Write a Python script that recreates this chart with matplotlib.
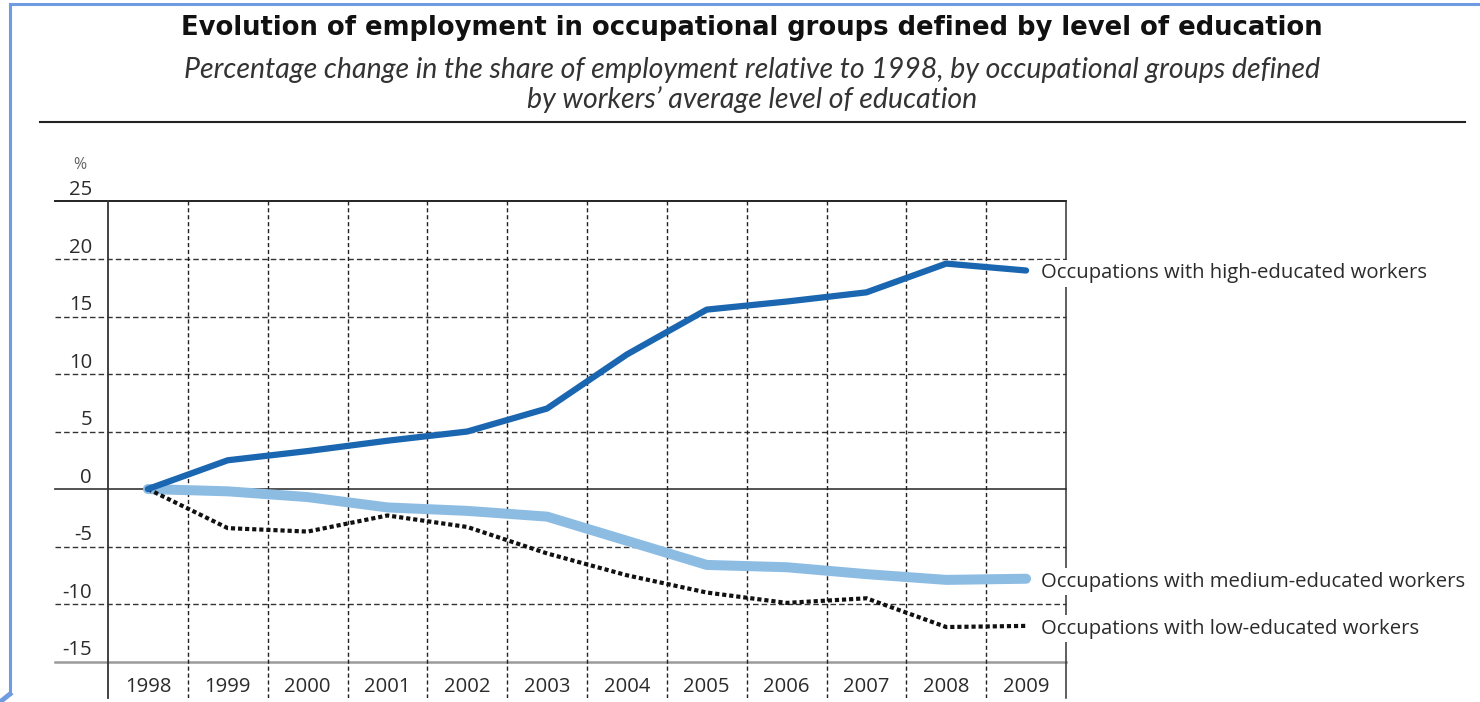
import matplotlib
matplotlib.use("Agg")
import matplotlib.pyplot as plt
import matplotlib.transforms as mtransforms
from matplotlib.lines import Line2D

# ---------------- data ----------------
years = ["1998", "1999", "2000", "2001", "2002", "2003",
         "2004", "2005", "2006", "2007", "2008", "2009"]
high_edu = [0, 2.5, 3.3, 4.2, 5.0, 7.0, 11.7, 15.6, 16.3, 17.1, 19.6, 19.0]
medium_edu = [0, -0.2, -0.7, -1.6, -1.9, -2.4, -4.5, -6.6, -6.8, -7.4, -7.9, -7.8]
low_edu = [0, -3.4, -3.7, -2.3, -3.3, -5.6, -7.5, -9.0, -9.9, -9.5, -12.0, -11.9]
y_ticks = [25, 20, 15, 10, 5, 0, -5, -10, -15]
series_labels = ["Occupations with high-educated workers",
                 "Occupations with medium-educated workers",
                 "Occupations with low-educated workers"]
title = "Evolution of employment in occupational groups defined by level of education"
subtitle1 = "Percentage change in the share of employment relative to 1998, by occupational groups defined"
subtitle2 = "by workers\u2019 average level of education"

W, H = 1480, 702
fig = plt.figure(figsize=(W / 100, H / 100), dpi=100)
fig.patch.set_facecolor("white")

# axes placement (pixel based)
ax_l, ax_r, ax_t, ax_b = 108, 1066, 201.5, 698
ax = fig.add_axes([ax_l / W, (H - ax_b) / H, (ax_r - ax_l) / W, (ax_b - ax_t) / H])
ax.set_xlim(-0.5, len(years) - 0.5)
ax.set_ylim(-18.17, 25)
ax.set_xticks([])
ax.set_yticks([])
for s in ["top", "bottom"]:
    ax.spines[s].set_visible(False)
ax.spines["left"].set_color("#333333")
ax.spines["left"].set_linewidth(1.3)
ax.spines["right"].set_color("#333333")
ax.spines["right"].set_linewidth(1.1)

FONT = "Open Sans"
TXT = "#2b2b2b"
FS = 14.6
blend = mtransforms.blended_transform_factory(ax.transAxes, ax.transData)
ext_left = (55 - ax_l) / (ax_r - ax_l)

# horizontal reference lines
for v in y_ticks:
    if v == 25:
        ax.plot([ext_left, 1], [v, v], transform=blend, color="#222222", lw=1.4,
                clip_on=False, zorder=2)
    elif v == 0:
        ax.plot([ext_left, 1], [v, v], transform=blend, color="#444444", lw=1.3,
                clip_on=False, zorder=2)
    elif v == -15:
        ax.plot([ext_left, 1], [v, v], transform=blend, color="#9a9a9a", lw=1.8,
                clip_on=False, zorder=2)
    else:
        ax.plot([ext_left, 1], [v, v], transform=blend, color="#333333", lw=1.0,
                dashes=(4, 2.2), clip_on=False, zorder=2)
    ax.annotate(str(v), xy=(-0.5, v), xycoords="data",
                xytext=(-11.5, 4.5), textcoords="offset points",
                ha="right", va="baseline", fontsize=FS, family=FONT,
                color=TXT, annotation_clip=False)

# "%" label
ax.annotate("%", xy=(-0.5, 25), xytext=(-20, 26), textcoords="offset points",
            ha="center", va="center", fontsize=11.5, family=FONT, color="#666666",
            annotation_clip=False)

# vertical dashed grid lines between categories
for i in range(len(years) - 1):
    ax.axvline(i + 0.5, color="#222222", lw=1.0, dashes=(3, 2), zorder=2)

# x category labels
for i, yr in enumerate(years):
    ax.text(i, -17.2, yr, ha="center", va="center", fontsize=FS,
            family=FONT, color=TXT)

x = list(range(len(years)))
ax.plot(x, medium_edu, color="#8dbce3", lw=7.2, solid_capstyle="round",
        solid_joinstyle="round", zorder=4)
ax.plot(x, low_edu, color="#111111", lw=3.0, dashes=(1.0, 0.7),
        dash_capstyle="butt", zorder=5)
ax.plot(x, high_edu, color="#1a66b0", lw=4.5, solid_capstyle="round",
        solid_joinstyle="round", zorder=6)

# end labels
for vals, lab, dy in [(high_edu, series_labels[0], -2),
                      (medium_edu, series_labels[1], -2),
                      (low_edu, series_labels[2], -2)]:
    ax.annotate(lab, xy=(x[-1], vals[-1]), xytext=(11, dy), textcoords="offset points",
                ha="left", va="center", fontsize=FS, family=FONT, color=TXT,
                bbox=dict(facecolor="white", edgecolor="none", pad=2.5),
                annotation_clip=False, zorder=10)

# titles
fig.text(752 / W, 1 - 28 / H, title, ha="center", va="center", fontsize=18.6,
         family="DejaVu Sans", fontweight="bold", color="#111111")
fig.text(752 / W, 1 - 70 / H, subtitle1, ha="center", va="center", fontsize=20.5,
         family="Lato", style="italic", color="#333333")
fig.text(752 / W, 1 - 100 / H, subtitle2, ha="center", va="center", fontsize=20.5,
         family="Lato", style="italic", color="#333333")

# rule under subtitle
fig.add_artist(Line2D([40 / W, 1465 / W], [1 - 122 / H, 1 - 122 / H],
                      transform=fig.transFigure, color="#222222", lw=1.5))

# light blue frame (top and left)
fig.add_artist(Line2D([10 / W, 1.0], [1 - 4 / H, 1 - 4 / H],
                      transform=fig.transFigure, color="#6f9be0", lw=2.2))
fig.add_artist(Line2D([10 / W, 10 / W], [1 - 4 / H, 8 / H],
                      transform=fig.transFigure, color="#6f9be0", lw=2.2))
fig.add_artist(Line2D([10 / W, 0], [8 / H, 0], transform=fig.transFigure,
                      color="#6f9be0", lw=3.5))

fig.savefig("out.png", dpi=100)
